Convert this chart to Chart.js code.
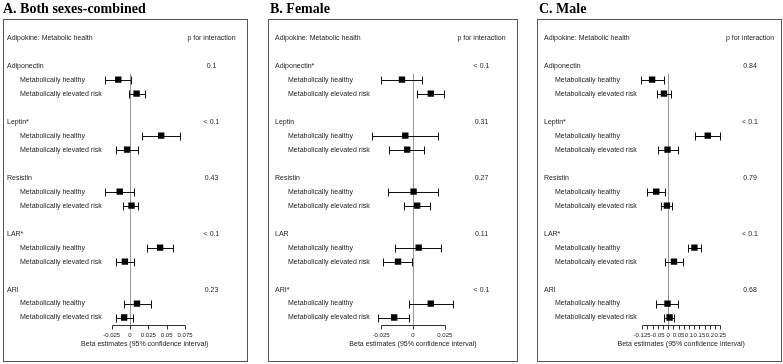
<!DOCTYPE html>
<html>
<head>
  <title>Adipokine forest plots</title>
  <script src="https://cdn.jsdelivr.net/npm/chart.js"></script>
  <style>
    body { margin: 0; background: #fff; }
    canvas { position: absolute; top: 0; }
  </style>
</head>
<body>
  <canvas id="cA" width="261" height="364" style="left:0px"></canvas>
  <canvas id="cB" width="261" height="364" style="left:261px"></canvas>
  <canvas id="cC" width="261" height="364" style="left:522px"></canvas>
  <script>
    // rows: adipokine, then healthy / elevated risk
    var groups = ['Adiponectin', 'Leptin', 'Resistin', 'LAR', 'ARI'];
    var subgroups = ['Metabolically healthy', 'Metabolically elevated risk'];

    // A. both sexes
    var bothEst = [-0.016, 0.009, 0.0425, -0.004, -0.014, 0.002, 0.041, -0.007, 0.0095, -0.008];
    var bothLo = [-0.034, -0.002, 0.017, -0.019, -0.034, -0.009, 0.023, -0.019, -0.008, -0.019];
    var bothHi = [0.002, 0.020, 0.068, 0.0105, 0.0055, 0.0115, 0.058, 0.0055, 0.028, 0.004];
    var bothP = ['0.1', '< 0.1', '0.43', '< 0.1', '0.23'];
    var bothStar = [false, true, false, true, false];
    var bothTicks = [-0.025, 0, 0.025, 0.05, 0.075];
    var bothTickLabels = ['-0.025', '0', '0.025', '0.05', '0.075'];

    // B. female
    var femEst = [-0.0086, 0.014, -0.006, -0.0045, 0.0005, 0.0033, 0.0045, -0.0117, 0.014, -0.0147];
    var femLo = [-0.0248, 0.0033, -0.032, -0.0187, -0.0192, -0.0071, -0.0139, -0.0235, -0.003, -0.0273];
    var femHi = [0.0071, 0.0245, 0.020, 0.0088, 0.020, 0.0136, 0.022, -0.0005, 0.0313, -0.003];
    var femP = ['< 0.1', '0.31', '0.27', '0.11', '< 0.1'];
    var femStar = [true, false, false, false, true];
    var femTicks = [-0.025, 0, 0.025];
    var femTickLabels = ['-0.025', '0', '0.025'];

    // C. male
    var maleEst = [-0.077, -0.020, 0.190, -0.003, -0.057, -0.006, 0.126, 0.028, -0.003, 0.007];
    var maleLo = [-0.131, -0.053, 0.130, -0.051, -0.099, -0.032, 0.095, -0.017, -0.056, -0.019];
    var maleHi = [-0.0185, 0.014, 0.247, 0.045, -0.016, 0.017, 0.156, 0.072, 0.048, 0.029];
    var maleP = ['0.84', '< 0.1', '0.79', '< 0.1', '0.68'];
    var maleStar = [false, true, false, true, false];
    var maleTicks = [-0.125, -0.1, -0.075, -0.05, -0.025, 0, 0.025, 0.05, 0.075, 0.1, 0.125, 0.15, 0.175, 0.2, 0.225, 0.25];
    var maleTickLabels = ['-0.125', '', '', '-0.05', '', '0', '', '0.05', '', '0.1', '', '0.15', '', '0.2', '', '0.25'];

    var FONT = '"Liberation Sans", Arial, sans-serif';

    function subRow(i) { return 3 + Math.floor(i / 2) * 4 + (i % 2); }

    var forestPlugin = {
      id: 'forest',
      beforeDatasetsDraw: function (chart) {
        var o = chart.options.plugins.forest;
        var ctx = chart.ctx, xs = chart.scales.x, ys = chart.scales.y;
        ctx.save();
        // zero line
        ctx.strokeStyle = '#999';
        ctx.lineWidth = 1;
        var zx = Math.round(xs.getPixelForValue(0)) + 0.5;
        ctx.beginPath();
        ctx.moveTo(zx, ys.getPixelForValue(2.58));
        ctx.lineTo(zx, ys.getPixelForValue(o.axisRow));
        ctx.stroke();
        // confidence intervals
        ctx.strokeStyle = '#111';
        for (var i = 0; i < o.lo.length; i++) {
          var y = Math.round(ys.getPixelForValue(subRow(i))) + 0.5;
          var x1 = Math.round(xs.getPixelForValue(o.lo[i])) + 0.5;
          var x2 = Math.round(xs.getPixelForValue(o.hi[i])) + 0.5;
          ctx.beginPath();
          ctx.moveTo(x1, y); ctx.lineTo(x2, y);
          ctx.moveTo(x1, y - 4); ctx.lineTo(x1, y + 4);
          ctx.moveTo(x2, y - 4); ctx.lineTo(x2, y + 4);
          ctx.stroke();
        }
        ctx.restore();
      },
      afterDraw: function (chart) {
        var o = chart.options.plugins.forest;
        var ctx = chart.ctx, xs = chart.scales.x, ys = chart.scales.y;
        ctx.save();
        // title
        ctx.fillStyle = '#000';
        ctx.font = 'bold 14px "Liberation Serif", "Times New Roman", serif';
        ctx.textBaseline = 'alphabetic';
        ctx.textAlign = 'left';
        ctx.fillText(o.title, o.titleX, 12.5);
        // frame
        ctx.strokeStyle = '#555';
        ctx.lineWidth = 1;
        ctx.strokeRect(o.box[0] + 0.5, o.box[1] + 0.5, o.box[2] - o.box[0], o.box[3] - o.box[1]);
        // text column
        ctx.fillStyle = '#222';
        ctx.font = '7px ' + FONT;
        ctx.textBaseline = 'middle';
        ctx.fillText('Adipokine: Metabolic health', o.labelX, ys.getPixelForValue(0));
        ctx.textAlign = 'center';
        ctx.fillText('p for interaction', o.pX, ys.getPixelForValue(0));
        for (var g = 0; g < groups.length; g++) {
          var gy = ys.getPixelForValue(2 + g * 4);
          ctx.textAlign = 'left';
          ctx.fillText(groups[g] + (o.star[g] ? '*' : ''), o.labelX, gy);
          ctx.textAlign = 'center';
          ctx.fillText(o.p[g], o.pX, gy);
          ctx.textAlign = 'left';
          for (var s = 0; s < subgroups.length; s++) {
            ctx.fillText(subgroups[s], o.subX, ys.getPixelForValue(3 + g * 4 + s));
          }
        }
        // x axis
        var ay = Math.round(ys.getPixelForValue(o.axisRow)) + 0.5;
        var t0 = xs.getPixelForValue(o.ticks[0]);
        var t1 = xs.getPixelForValue(o.ticks[o.ticks.length - 1]);
        ctx.strokeStyle = '#333';
        ctx.beginPath();
        ctx.moveTo(Math.round(t0) + 0.5, ay);
        ctx.lineTo(Math.round(t1) + 0.5, ay);
        for (var t = 0; t < o.ticks.length; t++) {
          var tx = Math.round(xs.getPixelForValue(o.ticks[t])) + 0.5;
          ctx.moveTo(tx, ay);
          ctx.lineTo(tx, ay + 4);
        }
        ctx.stroke();
        ctx.font = '6px ' + FONT;
        ctx.textAlign = 'center';
        for (var k = 0; k < o.ticks.length; k++) {
          if (o.tickLabels[k]) ctx.fillText(o.tickLabels[k], xs.getPixelForValue(o.ticks[k]), ay + 10);
        }
        ctx.font = '7px ' + FONT;
        ctx.fillText('Beta estimates (95% confidence interval)', xs.getPixelForValue(o.titleAt), ay + 19);
        ctx.restore();
      }
    };

    function makePanel(id, est, cfg) {
      var pts = est.map(function (v, i) { return { x: v, y: subRow(i) }; });
      return new Chart(document.getElementById(id).getContext('2d'), {
        type: 'scatter',
        data: {
          datasets: [{
            data: pts,
            pointStyle: 'rect',
            pointRadius: 4.5,
            pointHoverRadius: 4.5,
            backgroundColor: '#000',
            borderWidth: 0
          }]
        },
        options: {
          responsive: false,
          animation: false,
          layout: { padding: 0 },
          plugins: { legend: { display: false }, tooltip: { enabled: false }, forest: cfg },
          scales: {
            x: { display: false, min: cfg.xmin, max: cfg.xmax },
            y: { display: false, reverse: true, min: -2.369, max: 22.997 }
          }
        },
        plugins: [forestPlugin]
      });
    }

    makePanel('cA', bothEst, {
      title: 'A. Both sexes-combined', titleX: 3, box: [3, 19, 247, 361],
      labelX: 7, subX: 20, pX: 211.5, axisRow: 20.56,
      xmin: -130 / 760, xmax: 131 / 760, lo: bothLo, hi: bothHi, p: bothP, star: bothStar,
      ticks: bothTicks, tickLabels: bothTickLabels, titleAt: 0.02
    });
    makePanel('cB', femEst, {
      title: 'B. Female', titleX: 9, box: [7, 19, 256, 361],
      labelX: 14, subX: 27, pX: 220.5, axisRow: 20.56,
      xmin: -152.7 / 1320, xmax: 108.3 / 1320, lo: femLo, hi: femHi, p: femP, star: femStar,
      ticks: femTicks, tickLabels: femTickLabels, titleAt: 0
    });
    makePanel('cC', maleEst, {
      title: 'C. Male', titleX: 17, box: [15, 19, 259, 361],
      labelX: 22, subX: 33, pX: 228, axisRow: 20.56,
      xmin: -146.7 / 216, xmax: 114.3 / 216, lo: maleLo, hi: maleHi, p: maleP, star: maleStar,
      ticks: maleTicks, tickLabels: maleTickLabels, titleAt: 0.0625
    });
  </script>
</body>
</html>
